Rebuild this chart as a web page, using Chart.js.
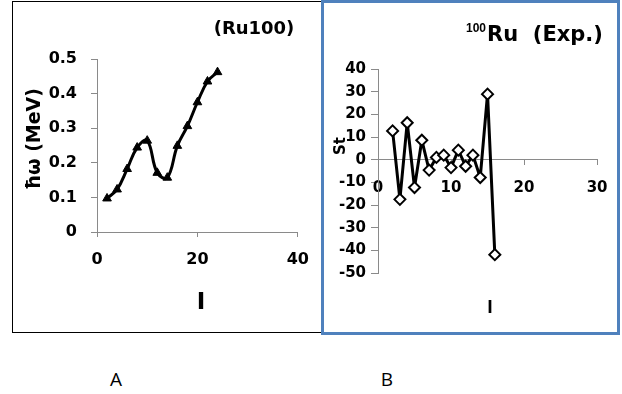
<!DOCTYPE html>
<html>
<head>
<meta charset="utf-8">
<script src="https://cdn.jsdelivr.net/npm/chart.js@4"></script>
<style>
  body { margin: 0; background: #fff; }
  #page { position: relative; width: 622px; height: 394px; overflow: hidden; }
  canvas { position: absolute; top: 0; }
  .box { position: absolute; box-sizing: border-box; }
  .t { position: absolute; line-height: 1; white-space: pre; color: #000;
       transform: translate(-50%, -50%); }
  .dj { font-family: "DejaVu Sans"; font-weight: bold; }
</style>
</head>
<body>
<div id="page">
  <canvas id="chartA" width="322" height="340" style="left:0"></canvas>
  <canvas id="chartB" width="300" height="340" style="left:322px"></canvas>

  <div class="box" style="left:12px;top:1px;width:310px;height:332px;border:1px solid #000"></div>
  <div class="box" style="left:321px;top:0;width:299px;height:335px;border:3px solid #4f81bd"></div>

  <div class="t dj" style="left:254px;top:28px;font-size:18px">(Ru100)</div>
  <div class="t dj" style="left:33px;top:139px;font-size:19px;transform:translate(-50%,-50%) rotate(-90deg)">ħω (MeV)</div>
  <div class="t dj" style="left:201px;top:301px;font-size:23px">I</div>

  <div class="t" style="left:476px;top:28px;font:bold 12px 'Liberation Sans'">100</div>
  <div class="t dj" style="left:545px;top:34px;font-size:21px">Ru  (Exp.)</div>
  <div class="t dj" style="left:340px;top:146px;font-size:15px;transform:translate(-50%,-50%) rotate(-90deg)">St</div>
  <div class="t" style="left:490px;top:306px;font:bold 18px 'Open Sans'">I</div>

  <div class="t" style="left:116px;top:379px;font:19px 'Open Sans'">A</div>
  <div class="t" style="left:387px;top:379px;font:19px 'Open Sans'">B</div>
</div>
<script>
// panel A: rotational frequency vs spin
const spinA = [2, 4, 6, 8, 10, 12, 14, 16, 18, 20, 22, 24];
const omegaA = [0.097, 0.123, 0.182, 0.244, 0.264, 0.171, 0.157, 0.249, 0.306, 0.375, 0.435, 0.462];

// panel B: staggering, experiment
const spinB = [2, 3, 4, 5, 6, 7, 8, 9, 10, 11, 12, 13, 14, 15, 16];
const stB = [12.7, -17.5, 16.3, -12.3, 8.6, -4.6, 1.0, 2.0, -3.5, 4.2, -2.9, 2.0, -7.9, 28.9, -41.9];

const axisGray = '#8a8a8a';

function toPoints(xs, ys) {
    return xs.map((x, i) => ({ x: x, y: ys[i] }));
}

function axis(min, max, step, font, tickLen, pad, extra) {
    return Object.assign({
        type: 'linear',
        min: min,
        max: max,
        border: { display: true, color: axisGray, width: 1 },
        grid: { drawOnChartArea: false, drawTicks: true, tickLength: tickLen, tickColor: axisGray },
        ticks: { stepSize: step, color: '#000', font: font, padding: pad, maxRotation: 0, autoSkip: false }
    }, extra);
}

Chart.defaults.animation = false;

const fontA = { family: 'DejaVu Sans', weight: 'bold', size: 16 };
new Chart(document.getElementById('chartA').getContext('2d'), {
    type: 'line',
    data: {
        datasets: [{
            data: toPoints(spinA, omegaA),
            borderColor: '#000',
            backgroundColor: '#000',
            borderWidth: 3,
            borderJoinStyle: 'round',
            tension: 0.4,
            pointStyle: 'triangle',
            pointRadius: 5,
            pointBorderWidth: 1
        }]
    },
    options: {
        responsive: false,
        devicePixelRatio: 1,
        layout: { padding: { left: 0, top: 59, right: 22, bottom: 0 } },
        plugins: { legend: { display: false }, tooltip: { enabled: false } },
        scales: {
            x: axis(0, 40, 20, fontA, 5, 13, {
                position: 'bottom',
                afterFit: s => { s.height = 108; }
            }),
            y: axis(0, 0.5, 0.1, fontA, 6, 14, {
                position: 'left',
                afterFit: s => { s.width = 97; }
            })
        }
    }
});

const fontB = { family: 'DejaVu Sans', weight: 'bold', size: 15 };
new Chart(document.getElementById('chartB').getContext('2d'), {
    type: 'line',
    data: {
        datasets: [{
            data: toPoints(spinB, stB),
            borderColor: '#000',
            backgroundColor: '#fff',
            borderWidth: 3,
            borderJoinStyle: 'round',
            tension: 0,
            pointStyle: 'rectRot',
            pointRadius: 5.5,
            pointBorderWidth: 2
        }]
    },
    options: {
        responsive: false,
        devicePixelRatio: 1,
        layout: { padding: { left: 0, top: 69, right: 21, bottom: 67 } },
        plugins: { legend: { display: false }, tooltip: { enabled: false } },
        scales: {
            x: axis(0, 30, 10, fontB, 5, 14.5, { position: { y: 0 } }),
            y: axis(-50, 40, 10, fontB, 7, 5, {
                position: 'left',
                afterFit: s => { s.width = 56; }
            })
        }
    }
});
</script>
</body>
</html>
